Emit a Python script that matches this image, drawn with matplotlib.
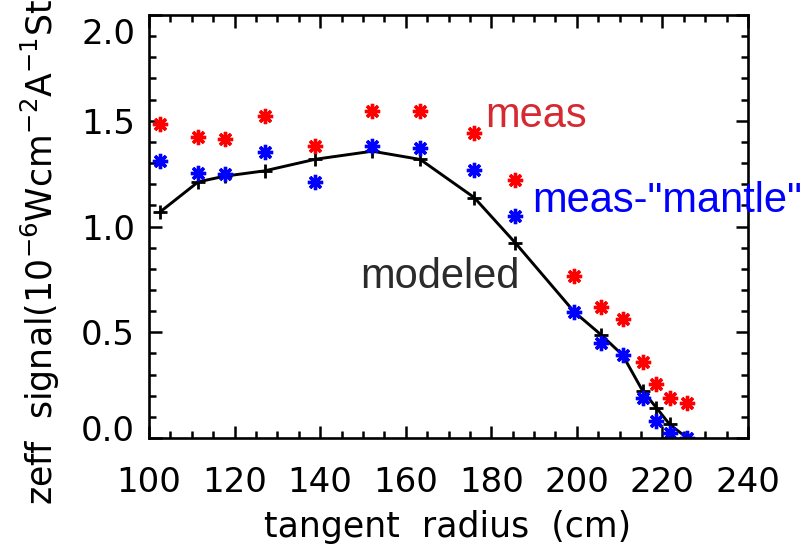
import matplotlib
matplotlib.use('Agg')
import matplotlib.pyplot as plt
import matplotlib.transforms as mtransforms
from matplotlib.ticker import MultipleLocator

# tangent radius (cm)
radius = [102.6, 111.5, 117.7, 127.0, 138.9, 152.2, 163.4, 176.0,
          185.6, 199.4, 205.6, 210.7, 215.4, 218.6, 221.7, 225.8]
meas = [1.483, 1.421, 1.416, 1.522, 1.380, 1.547, 1.544, 1.440,
        1.222, 0.766, 0.619, 0.562, 0.357, 0.253, 0.190, 0.167]
meas_mantle = [1.310, 1.251, 1.247, 1.351, 1.209, 1.380, 1.372, 1.266,
               1.052, 0.596, 0.451, 0.392, 0.190, 0.081, 0.025, 0.0]
modeled = [1.069, 1.211, 1.238, 1.263, 1.318, 1.356, 1.317, 1.137,
           0.923, 0.596, 0.489, 0.392, 0.222, 0.143, 0.064, 0.0]

xticks = [100, 120, 140, 160, 180, 200, 220, 240]
yticks = [0.0, 0.5, 1.0, 1.5, 2.0]

plt.rcParams['font.family'] = 'DejaVu Sans'
plt.rcParams['mathtext.fontset'] = 'dejavusans'

fig = plt.figure(figsize=(8.09, 5.45), dpi=100)
ax = fig.add_axes([149/809, 1-438/545, 599/809, 423/545])

star = (8, 2, 0)
ax.plot(radius, modeled, color='black', lw=2.1, marker='+', ms=10, mew=2.0)
ax.plot(radius, meas, ls='none', marker=star, ms=11, mew=2.4, color='#ff0000')
ax.plot(radius, meas_mantle, ls='none', marker=star, ms=11, mew=2.4, color='#0000ff')

ax.set_xlim(100, 240)
ax.set_ylim(0, 2.0)
ax.set_xticks(xticks)
ax.set_xticklabels([str(v) for v in xticks])
ax.set_yticks(yticks)
ax.set_yticklabels(['%.1f' % v for v in yticks])
ax.xaxis.set_minor_locator(MultipleLocator(5))
ax.yaxis.set_minor_locator(MultipleLocator(0.1))
ax.tick_params(which='both', direction='in', top=True, right=True, width=1.8)
ax.tick_params(which='major', length=9)
ax.tick_params(which='minor', length=5)
ax.tick_params(axis='x', pad=20, labelsize=24.5)
ax.tick_params(axis='y', pad=10, labelsize=24.5)
for s in ax.spines.values():
    s.set_linewidth(1.9)

# end labels sit inside the axis range, as in the original
for lbl in ax.get_yticklabels():
    if lbl.get_text() == '2.0':
        lbl.set_transform(lbl.get_transform() + mtransforms.ScaledTranslation(0, -16/100, fig.dpi_scale_trans))
    if lbl.get_text() == '0.0':
        lbl.set_transform(lbl.get_transform() + mtransforms.ScaledTranslation(0, 10/100, fig.dpi_scale_trans))

lab = dict(family='Liberation Sans', fontsize=30, va='baseline', clip_on=False)
ax.text(178.5, 1.47, 'meas', color='#d62a32', **lab)
ax.text(189.5, 1.067, 'meas-"mantle"', color='#0000ff', **lab)
ax.text(149.3, 0.71, 'modeled', color='#2b2b2b', **lab)

fig.text(448/809, 1-537/545, 'tangent  radius  (cm)', ha='center', va='baseline', fontsize=25)
fig.text(40/809, 1-505/545, 'zeff  signal(10$^{-6}$Wcm$^{-2}$A$^{-1}$Str$^{-1}$)',
         rotation=90, ha='center', va='bottom', fontsize=25)

fig.savefig('out.png', dpi=100)
